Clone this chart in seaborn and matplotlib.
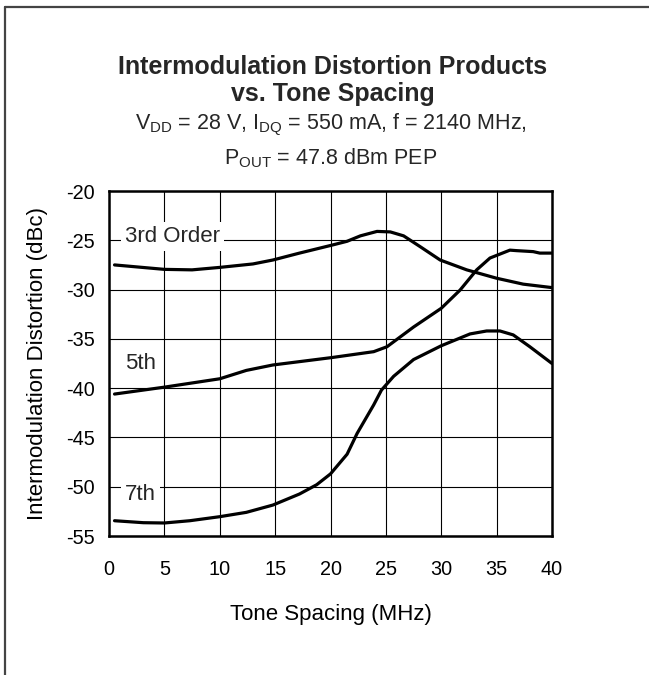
import matplotlib
matplotlib.use("Agg")
import matplotlib.pyplot as plt
import seaborn as sns
import pandas as pd
from matplotlib.lines import Line2D

# values
x_3rd = [0.5, 5.0, 7.5, 10.0, 13.0, 14.8, 17.2, 20.1, 21.5, 22.7, 24.2, 25.4, 26.6, 28.1, 29.9, 32.3, 35.0, 37.4, 40.0]
y_3rd = [-27.5, -27.95, -28.0, -27.75, -27.4, -27.0, -26.3, -25.5, -25.1, -24.55, -24.1, -24.15, -24.55, -25.65, -27.0, -28.0, -28.85, -29.45, -29.8]

x_5th = [0.5, 5.0, 10.0, 12.4, 14.8, 20.1, 23.9, 25.1, 27.5, 30.0, 31.7, 33.2, 34.4, 35.3, 36.2, 36.8, 38.3, 38.9, 40.0]
y_5th = [-40.6, -39.9, -39.05, -38.2, -37.65, -36.9, -36.3, -35.8, -33.8, -31.9, -30.05, -28.0, -26.8, -26.4, -26.0, -26.05, -26.15, -26.3, -26.3]

x_7th = [0.5, 3.1, 5.0, 7.3, 10.0, 12.4, 14.8, 17.2, 18.75, 20.0, 21.5, 22.4, 23.9, 24.6, 25.7, 27.5, 30.0, 32.6, 34.1, 35.3, 36.5, 38.0, 40.0]
y_7th = [-53.45, -53.65, -53.68, -53.45, -53.04, -52.6, -51.86, -50.74, -49.8, -48.7, -46.7, -44.6, -41.7, -40.2, -38.8, -37.1, -35.7, -34.5, -34.2, -34.2, -34.6, -35.8, -37.5]

curve_labels = ["3rd Order", "5th", "7th"]
label_x = [1.45, 1.45, 1.45]
label_y = [-24.6, -37.45, -50.8]

x_ticks = [0, 5, 10, 15, 20, 25, 30, 35, 40]
y_ticks = [-20, -25, -30, -35, -40, -45, -50, -55]


def main():
    sns.set_theme(style="white")
    plt.rcParams["font.family"] = ["Liberation Sans", "DejaVu Sans"]
    plt.rcParams["mathtext.fontset"] = "custom"
    plt.rcParams["mathtext.rm"] = "Liberation Sans"
    plt.rcParams["mathtext.it"] = "Liberation Sans"
    plt.rcParams["axes.unicode_minus"] = False

    fig = plt.figure(figsize=(6.49, 6.75), dpi=100)
    ax = fig.add_axes([109 / 649, 1 - 536 / 675, 443 / 649, 345 / 675])

    series = [(x_3rd, y_3rd), (x_5th, y_5th), (x_7th, y_7th)]
    for xs, ys in series:
        df = pd.DataFrame({"x": xs, "y": ys})
        sns.lineplot(data=df, x="x", y="y", ax=ax, color="black", linewidth=2.3,
                     sort=False, zorder=3)

    ax.set_xlim(0, 40)
    ax.set_ylim(-55, -20)
    ax.set_xticks(x_ticks)
    ax.set_yticks(y_ticks)
    ax.grid(True, color="black", linewidth=0.8)
    ax.tick_params(axis="both", length=0, labelsize=14.3, colors="black")
    ax.tick_params(axis="x", pad=17)
    ax.tick_params(axis="y", pad=10)
    for sp in ax.spines.values():
        sp.set_color("black")
        sp.set_linewidth(1.8)
        sp.set_zorder(4)

    ax.set_xlabel("Tone Spacing (MHz)", fontsize=16, labelpad=18, color="black")
    ax.set_ylabel("Intermodulation Distortion (dBc)", fontsize=16, labelpad=13, color="black")

    for lab, lx, ly in zip(curve_labels, label_x, label_y):
        ax.text(lx, ly, lab, fontsize=16, ha="left", va="center", zorder=2,
                bbox=dict(facecolor="white", edgecolor="none", pad=3))

    cx = 333 / 649
    fig.text(cx, 1 - 67 / 675, "Intermodulation Distortion Products", ha="center", va="center",
             fontsize=18, fontweight="bold")
    fig.text(cx, 1 - 94 / 675, "vs. Tone Spacing", ha="center", va="center",
             fontsize=18, fontweight="bold")
    fig.text(331 / 649, 1 - 125 / 675,
             r"V$_{\mathrm{DD}}$ = 28 V, I$_{\mathrm{DQ}}$ = 550 mA, f = 2140 MHz,",
             ha="center", va="center", fontsize=15.5)
    fig.text(331 / 649, 1 - 158 / 675, r"P$_{\mathrm{OUT}}$ = 47.8 dBm PEP",
             ha="center", va="center", fontsize=15.5)

    # frame lines at top and left of the figure
    fig.add_artist(Line2D([5 / 649, 1], [1 - 7 / 675, 1 - 7 / 675], color="#444444", linewidth=1.6))
    fig.add_artist(Line2D([5 / 649, 5 / 649], [0, 1 - 7 / 675], color="#444444", linewidth=1.6))

    fig.savefig("out.png", dpi=100)
    plt.close(fig)


if __name__ == "__main__":
    main()
